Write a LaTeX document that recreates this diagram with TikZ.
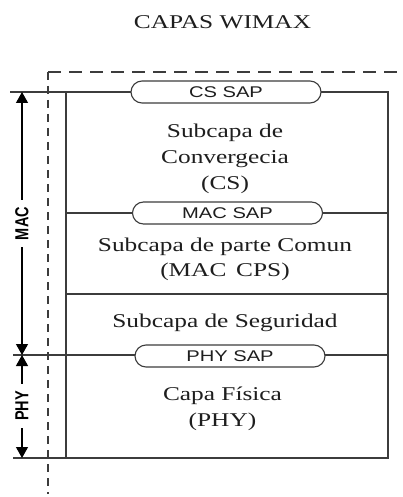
\documentclass[tikz,border=0pt]{standalone}
\usepackage{fontspec}
\setmainfont{Liberation Serif}[FakeStretch=1.3]
\setsansfont{Liberation Sans}[FakeStretch=1.3]
\newfontfamily\sidefont{Liberation Sans}
\usetikzlibrary{arrows.meta,shapes.misc}
\definecolor{linegray}{HTML}{3C3C3C}
\definecolor{textgray}{HTML}{1E1E1E}
\newcommand{\bodyfont}{\fontsize{19.5}{24}\selectfont\rmfamily}
\newcommand{\sapfont}{\fontsize{15.5}{18}\selectfont\sffamily}
\begin{document}
\begin{tikzpicture}[x=1pt,y=-1pt,
  rule/.style={draw=linegray,line width=1.3pt},
  framedash/.style={draw=linegray,line width=1.2pt},
  sap/.style={rounded rectangle,draw=linegray,line width=1.1pt,fill=white,
    minimum width=190pt,minimum height=22pt,inner sep=0pt,font=\sapfont,text=textgray},
  body/.style={anchor=base,inner sep=0pt,font=\bodyfont,text=textgray},
  side/.style={rotate=90,inner xsep=7pt,inner ysep=1pt,text=black},
  span/.style={-{Triangle[length=11pt,width=12pt]},draw=black,line width=1.2pt}]

\useasboundingbox (0,0) rectangle (403,497);
\fill[white] (0,0) rectangle (403,497);

% title
\node[body] (title) at (222.5,29) {CAPAS WIMAX};

% dashed frame (top edge and left edge)
\coordinate (fc) at (48,72);
\coordinate (fr) at (403,72);
\coordinate (fb) at (48,494);
\draw[framedash,dash pattern=on 13pt off 8pt] (fc) -- (fr);
\draw[framedash,dash pattern=on 8pt off 6pt] (fc) -- (fb);

% layer stack
\coordinate (tl) at (66,92);
\coordinate (br) at (388,458);
\draw[rule] (tl) rectangle (br);
\coordinate (topL) at (10,92);
\draw[rule] (topL) -- (tl);
\coordinate (macL) at (66,213);  \coordinate (macR) at (388,213);
\coordinate (secL) at (66,294);  \coordinate (secR) at (388,294);
\coordinate (phyL) at (13,355);  \coordinate (phyR) at (388,355);
\coordinate (botL) at (13,458);  \coordinate (botM) at (66,458);
\draw[rule] (macL) -- (macR);
\draw[rule] (secL) -- (secR);
\draw[rule] (phyL) -- (phyR);
\draw[rule] (botL) -- (botM);

% service access points
\node[sap] (cssap)  at (226,92)  {CS SAP};
\node[sap] (macsap) at (227.5,213) {MAC SAP};
\node[sap] (physap) at (230,356) {PHY SAP};

% layer captions
\node[body] (cs1) at (225,138)   {Subcapa de};
\node[body] (cs2) at (225,163.5) {Convergecia};
\node[body] (cs3) at (225,189)   {(CS)};
\node[body] (cps1) at (225,251)  {Subcapa de parte Comun};
\node[body] (cps2) at (225,276)  {(MAC\enspace CPS)};
\node[body] (sec)  at (225,327)  {Subcapa de Seguridad};
\node[body] (phy1) at (222.5,400.5) {Capa F\'isica};
\node[body] (phy2) at (222.5,426.5) {(PHY)};

% span markers on the left
\coordinate (macTop) at (22,92);
\coordinate (mid)    at (22,355);
\coordinate (phyBot) at (22,458);
\node[side] (maclab) at (22,223.5)
  {\scalebox{1}[1.3]{\fontsize{14.5}{16}\selectfont\sidefont\bfseries MAC}};
\node[side] (phylab) at (22,406)
  {\scalebox{1}[1.3]{\fontsize{14.5}{16}\selectfont\sidefont\bfseries PHY}};
\draw[span] (maclab.east) -- (macTop);
\draw[span] (maclab.west) -- (mid);
\draw[span] (phylab.east) -- (mid);
\draw[span] (phylab.west) -- (phyBot);
\end{tikzpicture}
\end{document}
